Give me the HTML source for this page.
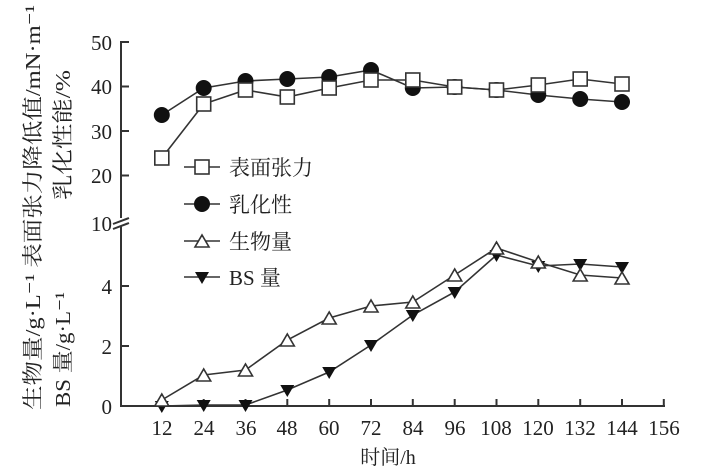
<!DOCTYPE html>
<html><head><meta charset="utf-8"><style>html,body{margin:0;padding:0;background:#fff}svg{display:block}</style></head>
<body>
<svg width="703" height="470" viewBox="0 0 703 470" xmlns="http://www.w3.org/2000/svg" font-family="'Liberation Serif','Noto Serif CJK SC',serif" fill="#222">
<rect width="703" height="470" fill="#fff"/>
<g stroke="#333" stroke-width="2" fill="none">
<line x1="121" y1="41" x2="121" y2="218"/>
<line x1="121" y1="226" x2="121" y2="407"/>
<line x1="113" y1="224" x2="129" y2="218"/>
<line x1="113" y1="229" x2="129" y2="223"/>
<line x1="120" y1="406" x2="665" y2="406"/>
<path d="M121 42h8M121 86.5h8M121 131h8M121 175.5h8M121 346h8M121 286h8"/>
<path d="M161.8 406v-7M203.7 406v-7M245.5 406v-7M287.3 406v-7M329.2 406v-7M371 406v-7M412.8 406v-7M454.7 406v-7M496.5 406v-7M538.3 406v-7M580.2 406v-7M622 406v-7M663.8 406v-7"/>
</g>
<g font-size="21" text-anchor="end">
<text x="112" y="50">50</text><text x="112" y="94">40</text><text x="112" y="139">30</text><text x="112" y="183">20</text><text x="112" y="231">10</text>
<text x="112" y="294">4</text><text x="112" y="354">2</text><text x="112" y="414">0</text>
</g>
<g font-size="21" text-anchor="middle">
<text x="162" y="435">12</text><text x="204" y="435">24</text><text x="246" y="435">36</text><text x="287" y="435">48</text><text x="329" y="435">60</text><text x="371" y="435">72</text><text x="413" y="435">84</text><text x="455" y="435">96</text><text x="496" y="435">108</text><text x="538" y="435">120</text><text x="580" y="435">132</text><text x="622" y="435">144</text><text x="664" y="435">156</text>
</g>
<text x="388" y="464" font-size="20" text-anchor="middle">时间/h</text>
<text transform="translate(40,410) rotate(-90)" font-size="21" textLength="405" lengthAdjust="spacingAndGlyphs">生物量/g·L⁻¹ 表面张力降低值/mN·m⁻¹</text>
<text transform="translate(70,407) rotate(-90)" font-size="21" textLength="115" lengthAdjust="spacingAndGlyphs">BS 量/g·L⁻¹</text>
<text transform="translate(70,200) rotate(-90)" font-size="21" textLength="130" lengthAdjust="spacingAndGlyphs">乳化性能/%</text>
<g stroke="#333" stroke-width="1.6" fill="none">
<polyline points="161.8,115 203.7,88 245.5,81 287.3,79 329.2,77 371,70 412.8,88 454.7,87 496.5,90 538.3,95 580.2,99 622,102"/>
<polyline points="161.8,158 203.7,104 245.5,90 287.3,97 329.2,88 371,80 412.8,80 454.7,87 496.5,90 538.3,85 580.2,79 622,84"/>
<polyline points="161.8,400 203.7,375 245.5,370 287.3,340 329.2,318 371,306 412.8,302 454.7,275 496.5,248 538.3,262 580.2,275 622,278"/>
<polyline points="161.8,406 203.7,405 245.5,405 287.3,390 329.2,372 371,345 412.8,315 454.7,292 496.5,255 538.3,266 580.2,264 622,267"/>
<path d="M184 167h36M184 204h36M184 241h36M184 277h36"/>
</g>
<g fill="#111">
<circle cx="161.8" cy="115" r="8"/><circle cx="203.7" cy="88" r="8"/><circle cx="245.5" cy="81" r="8"/><circle cx="287.3" cy="79" r="8"/><circle cx="329.2" cy="77" r="8"/><circle cx="371" cy="70" r="8"/><circle cx="412.8" cy="88" r="8"/><circle cx="454.7" cy="87" r="8"/><circle cx="496.5" cy="90" r="8"/><circle cx="538.3" cy="95" r="8"/><circle cx="580.2" cy="99" r="8"/><circle cx="622" cy="102" r="8"/>
<circle cx="202" cy="204" r="8"/>
</g>
<g fill="#fff" stroke="#333" stroke-width="1.6">
<rect x="154.8" y="151" width="14" height="14"/><rect x="196.7" y="97" width="14" height="14"/><rect x="238.5" y="83" width="14" height="14"/><rect x="280.3" y="90" width="14" height="14"/><rect x="322.2" y="81" width="14" height="14"/><rect x="364" y="73" width="14" height="14"/><rect x="405.8" y="73" width="14" height="14"/><rect x="447.7" y="80" width="14" height="14"/><rect x="489.5" y="83" width="14" height="14"/><rect x="531.3" y="78" width="14" height="14"/><rect x="573.2" y="72" width="14" height="14"/><rect x="615" y="77" width="14" height="14"/>
<rect x="195" y="160" width="14" height="14"/>
</g>
<g fill="#111">
<path d="M154.8,401 h14 l-7,12z M196.7,400 h14 l-7,12z M238.5,400 h14 l-7,12z M280.3,385 h14 l-7,12z M322.2,367 h14 l-7,12z M364,340 h14 l-7,12z M405.8,310 h14 l-7,12z M447.7,287 h14 l-7,12z M489.5,250 h14 l-7,12z M531.3,261 h14 l-7,12z M573.2,259 h14 l-7,12z M615,262 h14 l-7,12z M195,272 h14 l-7,12z"/>
</g>
<g fill="#fff" stroke="#333" stroke-width="1.6">
<path d="M154.8,406 h14 l-7,-12z M196.7,381 h14 l-7,-12z M238.5,376 h14 l-7,-12z M280.3,346 h14 l-7,-12z M322.2,324 h14 l-7,-12z M364,312 h14 l-7,-12z M405.8,308 h14 l-7,-12z M447.7,281 h14 l-7,-12z M489.5,254 h14 l-7,-12z M531.3,268 h14 l-7,-12z M573.2,281 h14 l-7,-12z M615,284 h14 l-7,-12z M195,247 h14 l-7,-12z"/>
</g>
<g font-size="21">
<text x="229" y="175">表面张力</text><text x="229" y="212">乳化性</text><text x="229" y="249">生物量</text><text x="229" y="285">BS 量</text>
</g>
</svg>
</body></html>
